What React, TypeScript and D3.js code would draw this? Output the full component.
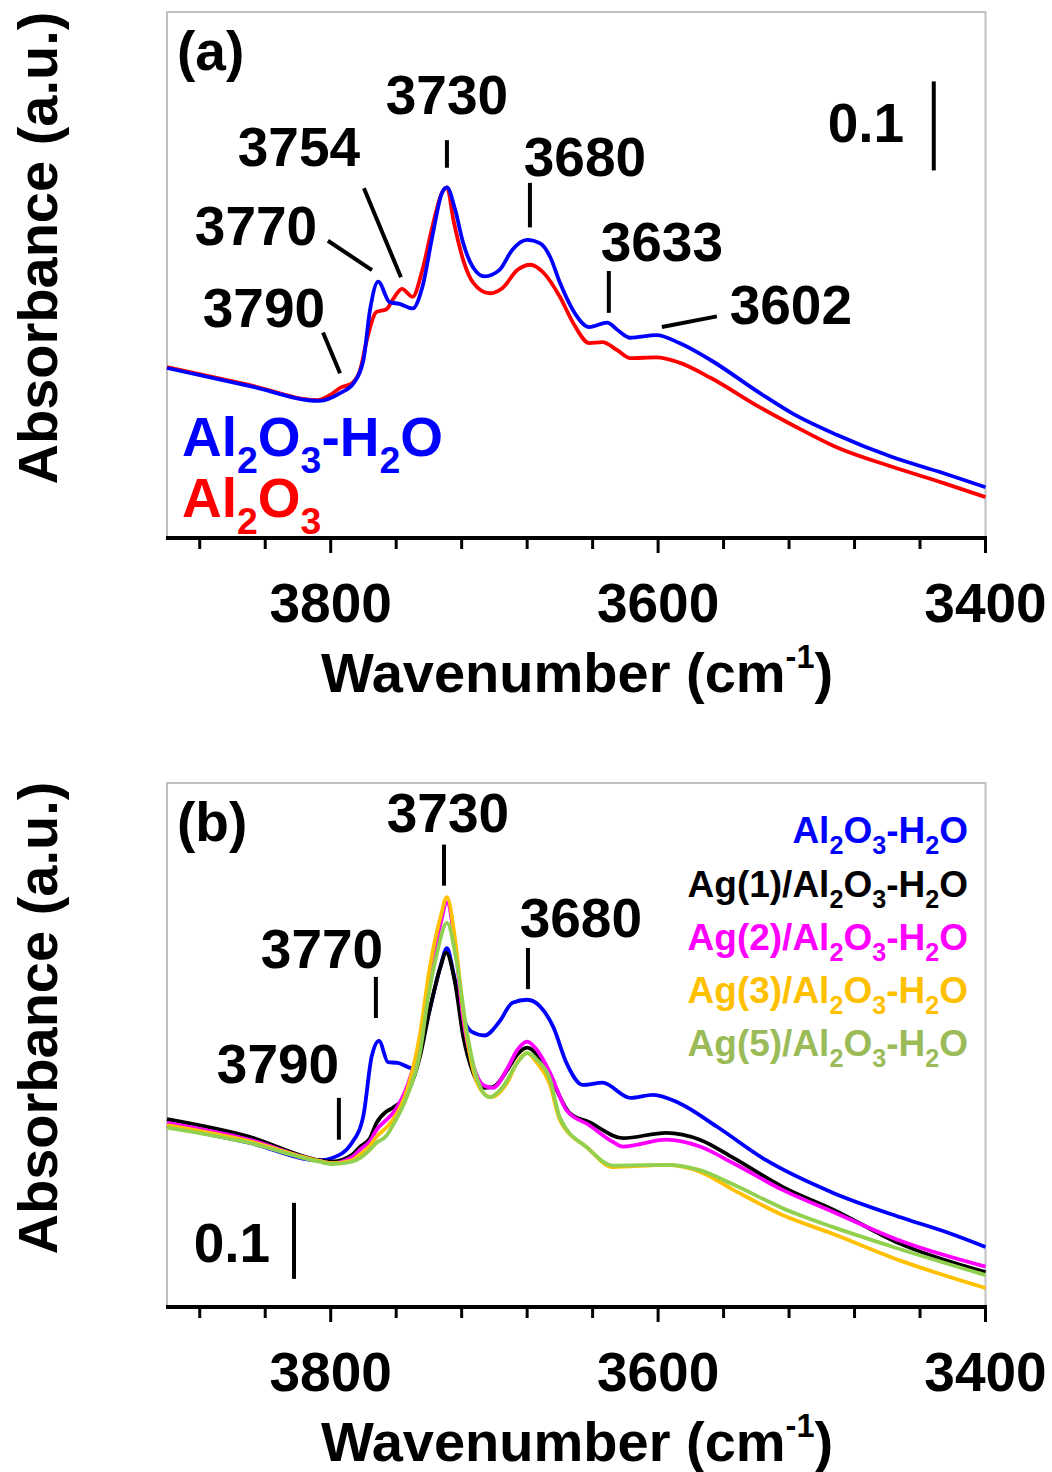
import React from "react";
import * as d3 from "d3";

// ---------- Panel (a) data ----------
const WN_A_H2O = [3900, 3850, 3807, 3794, 3786, 3780, 3776, 3771, 3764, 3758, 3750, 3744, 3738, 3732, 3729, 3724, 3719, 3713, 3706, 3697, 3689, 3680, 3672, 3666, 3660, 3652, 3642, 3631, 3625, 3617, 3601, 3587, 3568, 3538, 3518, 3491, 3457, 3426, 3400];
const ABS_A_H2O = [0.191, 0.171, 0.154, 0.163, 0.174, 0.200, 0.256, 0.288, 0.265, 0.263, 0.258, 0.282, 0.338, 0.388, 0.394, 0.369, 0.331, 0.304, 0.294, 0.301, 0.324, 0.335, 0.331, 0.316, 0.287, 0.256, 0.237, 0.242, 0.234, 0.225, 0.228, 0.219, 0.200, 0.163, 0.140, 0.116, 0.091, 0.073, 0.057];

const WN_A_AL = [3900, 3850, 3808, 3800, 3794, 3787, 3782, 3778, 3772, 3766, 3761, 3756.5, 3750, 3744, 3738, 3732, 3729, 3725, 3719, 3713, 3703, 3695, 3686, 3678, 3670, 3660, 3652, 3642, 3634, 3625, 3617, 3601, 3587, 3568, 3538, 3518, 3491, 3457, 3426, 3400];
const ABS_A_AL = [0.192, 0.172, 0.155, 0.161, 0.169, 0.174, 0.189, 0.222, 0.254, 0.257, 0.271, 0.280, 0.271, 0.301, 0.349, 0.388, 0.394, 0.357, 0.312, 0.287, 0.275, 0.281, 0.301, 0.307, 0.298, 0.271, 0.242, 0.219, 0.220, 0.211, 0.202, 0.203, 0.197, 0.180, 0.147, 0.127, 0.102, 0.080, 0.062, 0.046];

// ---------- Panel (b) data ----------
const WN_B_H2O = [3900, 3850, 3807, 3799, 3787, 3780, 3775, 3770.5, 3765, 3759, 3750, 3745.5, 3739.5, 3733, 3729, 3725, 3720, 3714, 3706, 3697, 3689, 3680, 3672, 3664, 3656, 3646, 3634, 3617, 3603, 3587, 3564, 3534, 3493, 3452, 3422, 3400];
const ABS_B_H2O = [0.238, 0.216, 0.193, 0.196, 0.216, 0.252, 0.329, 0.350, 0.322, 0.321, 0.314, 0.338, 0.391, 0.447, 0.472, 0.439, 0.387, 0.362, 0.357, 0.375, 0.400, 0.404, 0.395, 0.368, 0.321, 0.292, 0.295, 0.275, 0.279, 0.268, 0.237, 0.193, 0.150, 0.118, 0.097, 0.079];

const WN_B_AG1 = [3900, 3850, 3807, 3799, 3787, 3782, 3776, 3772, 3766, 3762, 3753, 3745.5, 3739.5, 3733, 3729.5, 3724, 3719, 3713, 3707, 3701, 3692, 3686, 3680, 3674, 3666, 3654, 3642, 3621.5, 3595, 3574.5, 3554, 3524, 3493, 3452, 3400];
const ABS_B_AG1 = [0.247, 0.224, 0.193, 0.191, 0.200, 0.211, 0.222, 0.242, 0.257, 0.262, 0.282, 0.329, 0.391, 0.447, 0.466, 0.426, 0.355, 0.308, 0.288, 0.289, 0.312, 0.332, 0.341, 0.332, 0.303, 0.255, 0.243, 0.222, 0.229, 0.220, 0.196, 0.158, 0.128, 0.083, 0.046];

const WN_B_AG2 = [3900, 3850, 3807, 3799, 3787, 3782, 3776, 3772, 3766, 3762, 3753, 3745.5, 3739.5, 3733, 3729, 3724, 3719, 3713, 3707, 3701, 3692, 3686, 3680, 3674, 3666, 3656, 3642, 3627.5, 3621.5, 3595, 3574.5, 3554, 3524, 3493, 3452, 3400];
const ABS_B_AG2 = [0.242, 0.220, 0.192, 0.189, 0.197, 0.207, 0.218, 0.233, 0.246, 0.255, 0.292, 0.351, 0.437, 0.503, 0.532, 0.476, 0.378, 0.318, 0.292, 0.288, 0.314, 0.338, 0.349, 0.338, 0.308, 0.259, 0.239, 0.217, 0.211, 0.220, 0.211, 0.189, 0.154, 0.125, 0.087, 0.053];

const WN_B_AG3 = [3900, 3850, 3807, 3799, 3787, 3782, 3776, 3772, 3766, 3762, 3753, 3745.5, 3739.5, 3733, 3729, 3724, 3719, 3713, 3707, 3702, 3692, 3686, 3680, 3674, 3666, 3660, 3643, 3627.5, 3595, 3574.5, 3554, 3524, 3493, 3452, 3400];
const ABS_B_AG3 = [0.239, 0.218, 0.192, 0.189, 0.193, 0.201, 0.212, 0.224, 0.236, 0.246, 0.288, 0.358, 0.446, 0.512, 0.539, 0.483, 0.388, 0.312, 0.282, 0.276, 0.296, 0.322, 0.334, 0.321, 0.292, 0.246, 0.209, 0.184, 0.187, 0.178, 0.154, 0.121, 0.096, 0.061, 0.025];

const WN_B_AG5 = [3900, 3850, 3807, 3799, 3787, 3782, 3776, 3772, 3766, 3762, 3753, 3745.5, 3741, 3735, 3729, 3723, 3717, 3711, 3703, 3695, 3686, 3680, 3674, 3666, 3660, 3643, 3627.5, 3595, 3574.5, 3554, 3524, 3493, 3452, 3400];
const ABS_B_AG5 = [0.236, 0.216, 0.191, 0.188, 0.191, 0.196, 0.207, 0.216, 0.225, 0.239, 0.279, 0.334, 0.400, 0.466, 0.505, 0.453, 0.364, 0.303, 0.276, 0.289, 0.321, 0.334, 0.325, 0.299, 0.249, 0.209, 0.186, 0.187, 0.180, 0.161, 0.130, 0.105, 0.076, 0.042];

// ---------- Axis / labels ----------
const X_DOMAIN = [3900, 3400];
const X_TICKS = d3.range(3880, 3399, -40);
const X_TICK_LABELS = [3800, 3600, 3400];

const PEAKS_A = ["3790", "3770", "3754", "3730", "3680", "3633", "3602"];
const PEAKS_B = ["3790", "3770", "3730", "3680"];

const LEGEND_B_NAMES = ["Ag(1)", "Ag(2)", "Ag(3)", "Ag(5)"];

// ---------- Layout (positions / styles) ----------
const FONT = "'Liberation Sans', Arial, Helvetica, sans-serif";
const FS = 55;
const FS_TITLE = 56;
const X_RANGE = [167, 985.5];

type Ann = { text: string; tx: number; ty: number; line: number[] };

const PANEL_A = {
  top: 12, bottom: 538, yMax: 0.591, letter: "(a)",
  series: [
    { wn: WN_A_AL, abs: ABS_A_AL, color: "#FF0000" },
    { wn: WN_A_H2O, abs: ABS_A_H2O, color: "#0000FF" },
  ],
  anns: [
    { text: PEAKS_A[0], tx: 3840.8, ty: 0.237, line: [3804.7, 0.231, 3794.3, 0.185] },
    { text: PEAKS_A[1], tx: 3845.6, ty: 0.329, line: [3801.7, 0.334, 3774.8, 0.301] },
    { text: PEAKS_A[2], tx: 3819.4, ty: 0.418, line: [3779.7, 0.393, 3757.1, 0.293] },
    { text: PEAKS_A[3], tx: 3729, ty: 0.476, line: [3729, 0.447, 3729, 0.416] },
    { text: PEAKS_A[4], tx: 3644.7, ty: 0.407, line: [3678.3, 0.399, 3678.3, 0.349] },
    { text: PEAKS_A[5], tx: 3597.7, ty: 0.311, line: [3630.1, 0.300, 3630.1, 0.253] },
    { text: PEAKS_A[6], tx: 3518.9, ty: 0.240, line: [3597.7, 0.237, 3564.1, 0.249] },
  ] as Ann[],
  scale: { x: 3431.6, y0: 0.413, tx: 3473, ty: 0.445 },
};

const PANEL_B = {
  top: 783, bottom: 1307, yMax: 0.689, letter: "(b)",
  series: [
    { wn: WN_B_H2O, abs: ABS_B_H2O, color: "#0000FF" },
    { wn: WN_B_AG1, abs: ABS_B_AG1, color: "#000000" },
    { wn: WN_B_AG2, abs: ABS_B_AG2, color: "#FF00FF" },
    { wn: WN_B_AG3, abs: ABS_B_AG3, color: "#FFC000" },
    { wn: WN_B_AG5, abs: ABS_B_AG5, color: "#92D050" },
  ],
  anns: [
    { text: PEAKS_B[0], tx: 3832.2, ty: 0.295, line: [3795, 0.275, 3795, 0.220] },
    { text: PEAKS_B[1], tx: 3805.3, ty: 0.446, line: [3772.4, 0.434, 3772.4, 0.380] },
    { text: PEAKS_B[2], tx: 3728.4, ty: 0.625, line: [3730.8, 0.608, 3730.8, 0.554] },
    { text: PEAKS_B[3], tx: 3647.2, ty: 0.487, line: [3679.5, 0.472, 3679.5, 0.418] },
  ] as Ann[],
  scale: { x: 3822.4, y0: 0.037, tx: 3860.3, ty: 0.059 },
};

const CHEM = ["Al", "_2", "O", "_3", "-H", "_2", "O"];
const CHEM_DRY = ["Al", "_2", "O", "_3"];

function Chem({ parts, fs }: { parts: string[]; fs: number }) {
  let off = 0;
  return (
    <>
      {parts.map((p, i) => {
        const sub = p.startsWith("_");
        const target = sub ? fs * 0.3 : 0;
        const dy = target - off;
        off = target;
        return (
          <tspan key={i} dy={dy} fontSize={sub ? fs * 0.68 : fs}>
            {sub ? p.slice(1) : p}
          </tspan>
        );
      })}
    </>
  );
}

function Panel({ cfg, children }: { cfg: any; children?: any }) {
  const x = d3.scaleLinear().domain(X_DOMAIN).range(X_RANGE);
  const y = d3.scaleLinear().domain([0, cfg.yMax]).range([cfg.bottom, cfg.top]);
  const line = (wn: number[], abs: number[]) =>
    d3
      .line<number>()
      .x((_, i) => x(wn[i]))
      .y((v) => y(v))
      .curve(d3.curveMonotoneX)(abs) || "";
  const midY = (cfg.top + cfg.bottom) / 2 - 27;
  return (
    <g>
      <rect
        x={X_RANGE[0]}
        y={cfg.top}
        width={X_RANGE[1] - X_RANGE[0]}
        height={cfg.bottom - cfg.top}
        fill="none"
        stroke="#BFBFBF"
        strokeWidth={2}
      />
      {cfg.series.map((s: any, i: number) => (
        <path key={i} d={line(s.wn, s.abs)} fill="none" stroke={s.color} strokeWidth={3.8} strokeLinejoin="round" />
      ))}
      <line x1={X_RANGE[0] - 1} x2={X_RANGE[1] + 1.5} y1={cfg.bottom} y2={cfg.bottom} stroke="#000" strokeWidth={4} />
      {X_TICKS.map((t) => {
        const major = X_TICK_LABELS.includes(t);
        return (
          <line key={t} x1={x(t)} x2={x(t)} y1={cfg.bottom} y2={cfg.bottom + (major ? 15 : 11)} stroke="#000" strokeWidth={3} />
        );
      })}
      {X_TICK_LABELS.map((t) => (
        <text key={t} x={x(t)} y={cfg.bottom + 84} textAnchor="middle" fontSize={FS}>
          {t}
        </text>
      ))}
      <text x={577} y={cfg.bottom + 154} textAnchor="middle" fontSize={FS_TITLE}>
        <tspan>Wavenumber (cm</tspan>
        <tspan fontSize={FS_TITLE * 0.58} dy={-FS_TITLE * 0.42}>-1</tspan>
        <tspan dy={FS_TITLE * 0.42}>)</tspan>
      </text>
      <text transform={`translate(57,${midY}) rotate(-90)`} textAnchor="middle" fontSize={FS_TITLE}>
        Absorbance (a.u.)
      </text>
      <text x={177} y={cfg.top + 58} fontSize={FS}>
        {cfg.letter}
      </text>
      {cfg.anns.map((a: Ann, i: number) => (
        <g key={i}>
          <text x={x(a.tx)} y={y(a.ty)} textAnchor="middle" fontSize={FS}>
            {a.text}
          </text>
          <line x1={x(a.line[0])} y1={y(a.line[1])} x2={x(a.line[2])} y2={y(a.line[3])} stroke="#000" strokeWidth={4} />
        </g>
      ))}
      <line x1={x(cfg.scale.x)} x2={x(cfg.scale.x)} y1={y(cfg.scale.y0)} y2={y(cfg.scale.y0 + 0.1)} stroke="#000" strokeWidth={4} />
      <text x={x(cfg.scale.tx)} y={y(cfg.scale.ty)} textAnchor="middle" fontSize={FS}>
        0.1
      </text>
      {children}
    </g>
  );
}

export default function App() {
  const legendColorsB = ["#000000", "#FF00FF", "#FFC000", "#9BBB59"];
  const lfs = 37;
  return (
    <svg
      width={1052}
      height={1472}
      style={{ position: "absolute", left: 0, top: 0, background: "#fff" }}
      fontFamily={FONT}
      fontWeight="bold"
    >
      <rect width={1052} height={1472} fill="#fff" />
      <Panel cfg={PANEL_A}>
        <text x={182} y={456} fill="#0000FF" fontSize={FS}>
          <Chem parts={CHEM} fs={FS} />
        </text>
        <text x={182} y={517} fill="#FF0000" fontSize={FS}>
          <Chem parts={CHEM_DRY} fs={FS} />
        </text>
      </Panel>
      <Panel cfg={PANEL_B}>
        <text x={968} y={843} textAnchor="end" fill="#0000FF" fontSize={lfs}>
          <Chem parts={CHEM} fs={lfs} />
        </text>
        {LEGEND_B_NAMES.map((n, i) => (
          <text key={n} x={968} y={897 + i * 53} textAnchor="end" fill={legendColorsB[i]} fontSize={lfs}>
            <Chem parts={[n + "/" + CHEM[0], ...CHEM.slice(1)]} fs={lfs} />
          </text>
        ))}
      </Panel>
    </svg>
  );
}
